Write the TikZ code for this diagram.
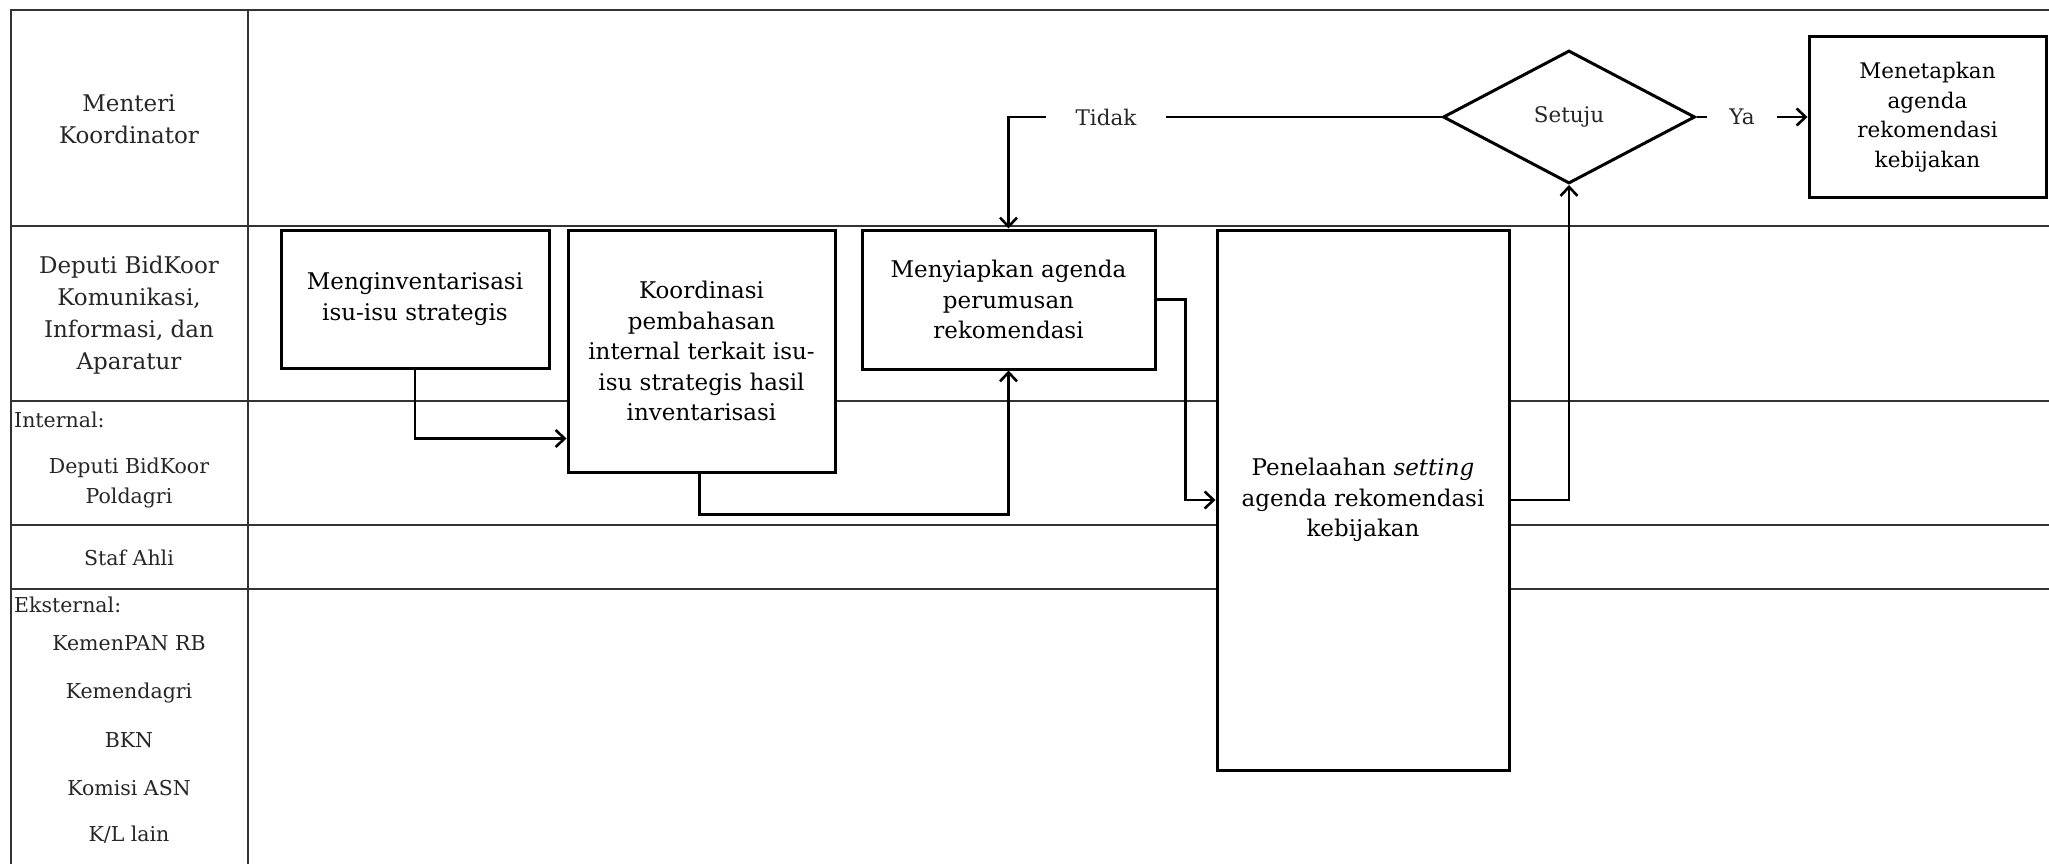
\documentclass[tikz,border=0pt]{standalone}
\usepackage{fontspec}
\setmainfont{DejaVu Serif}
\usetikzlibrary{shapes.geometric,arrows.meta,calc}
\begin{document}
\begin{tikzpicture}[x=1pt,y=-1pt,
  lane/.style={line width=2.2pt, draw=black!80},
  procbox/.style={draw, line width=3pt, fill=white, align=center, inner sep=0pt, font=\fontsize{23}{30.5}\selectfont},
  arr/.style={line width=2.6pt, -{Straight Barb[length=9pt,width=17pt]}},
  conn/.style={line width=2.6pt},
  lbl/.style={align=center, text=black!85, font=\fontsize{23}{32}\selectfont},
  lbls/.style={align=center, text=black!85, font=\fontsize{20.5}{30}\selectfont},
  flowlbl/.style={text=black!85, inner ysep=0pt, font=\fontsize{21.5}{26}\selectfont}
]
\useasboundingbox (0,0) rectangle (2049,864);
% swimlane grid
\draw[lane] (11,864) -- (11,10) -- (2049,10);
\draw[lane] (248,10) -- (248,864);
\foreach \yy in {226,401,525,589} \draw[lane] (11,\yy) -- (2049,\yy);

% lane labels
\node[lbl] (l1) at (129,119) {Menteri\\Koordinator};
\node[lbl] (l2) at (129,315) {Deputi BidKoor\\Komunikasi,\\Informasi, dan\\Aparatur};
\node[lbls, anchor=west, inner sep=0pt] (l3a) at (14,420) {Internal:};
\node[lbls] (l3) at (129,483) {Deputi BidKoor\\Poldagri};
\node[lbls] (l4) at (129,558) {Staf Ahli};
\node[lbls, anchor=west, inner sep=0pt] (l5a) at (14,605) {Eksternal:};
\node[lbls] (l5b) at (129,643) {KemenPAN RB};
\node[lbls] (l5c) at (129,693) {Kemendagri};
\node[lbls] (l5d) at (129,740) {BKN};
\node[lbls] (l5e) at (129,788) {Komisi ASN};
\node[lbls] (l5f) at (129,835) {K/L lain};

% process boxes
\node[procbox, minimum width=268pt, minimum height=138pt] (b1) at (415,299) {Menginventarisasi\\isu-isu strategis};
\node[procbox, minimum width=267pt, minimum height=242pt] (b2) at (701.5,351) {Koordinasi\\pembahasan\\internal terkait isu-\\isu strategis hasil\\inventarisasi};
\node[procbox, minimum width=293pt, minimum height=139pt] (b3) at (1008.5,299.5) {Menyiapkan agenda\\perumusan\\rekomendasi};
\node[procbox, minimum width=292pt, minimum height=540pt] (b4) at (1363,500) {Penelaahan \textit{setting}\\agenda rekomendasi\\kebijakan};
\node[procbox, minimum width=237pt, minimum height=160pt, font=\fontsize{21.5}{29.5}\selectfont] (b5) at (1927.5,117) {Menetapkan\\agenda\\rekomendasi\\kebijakan};
\node[diamond, draw, line width=3pt, fill=white, minimum width=252pt, minimum height=133pt, inner sep=0pt, text=black!85, font=\fontsize{21.5}{26}\selectfont] (d) at (1569,117) {Setuju};

% decision labels
\node[flowlbl, inner xsep=29pt] (tidak) at (1106,117) {Tidak};
\node[flowlbl, inner xsep=22pt] (ya) at (1742,117) {Ya};

% connectors
\draw[arr] (b1.south) |- ($(b2.south west)+(0,-35)$);
\draw[arr] ($(b2.south west)+(133,0)$) -- ++(0,41) -| (b3.south);
\draw[arr] (b3.east) -- ++(29,0) |- (b4.west);
\draw[arr] (b4.east) -| (d.south);
\draw[conn] (d.west) -- (tidak.east);
\draw[arr] (tidak.west) -| (b3.north);
\draw[conn] (d.east) -- (ya.west);
\draw[arr] (ya.east) -- (ya.east -| b5.west);
\end{tikzpicture}
\end{document}
